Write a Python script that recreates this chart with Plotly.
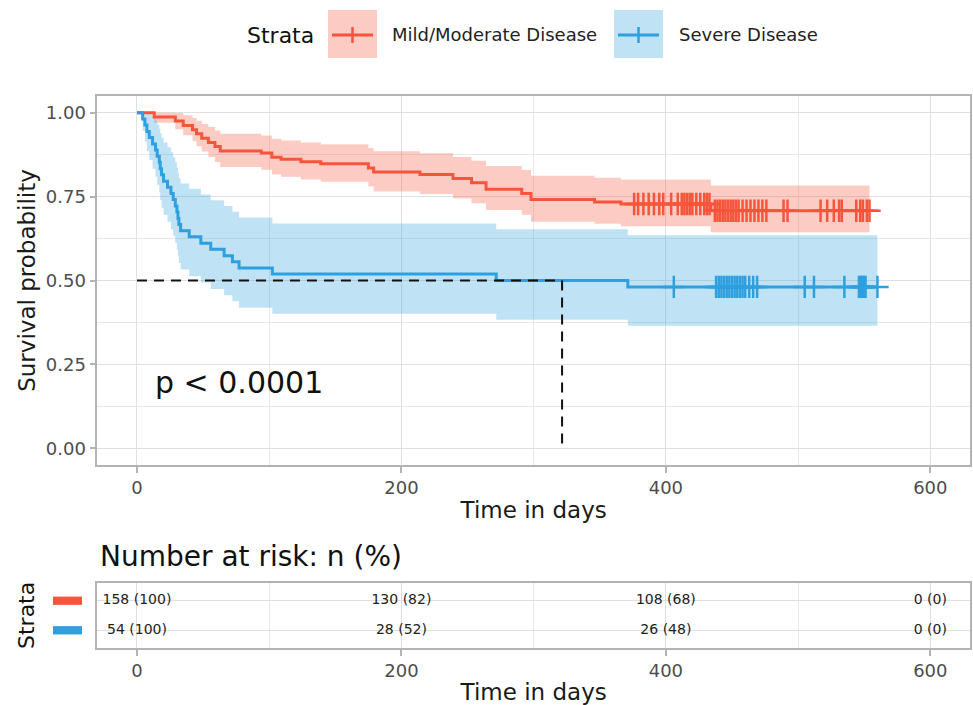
import plotly.graph_objects as go

# ---------------- data ----------------
GROUPS = ["Mild/Moderate Disease", "Severe Disease"]
COLORS = ["#F5553B", "#2E9FDF"]
FILLS = ["rgba(245,85,59,0.3)", "rgba(46,159,223,0.3)"]

# Mild/Moderate disease: step times (days), survival, and 95% CI
RED_TIME = [0, 13, 29, 35, 42, 45, 49, 54, 59, 63, 94, 102, 109, 124, 139,
            175, 179, 214, 239, 253, 264, 291, 298, 346, 366, 434, 554]
RED_SURV = [1.000, 0.987, 0.975, 0.962, 0.949, 0.937, 0.924, 0.911, 0.899, 0.886,
            0.880, 0.867, 0.861, 0.854, 0.848, 0.835, 0.823, 0.816, 0.804, 0.791,
            0.772, 0.759, 0.741, 0.734, 0.728, 0.708, 0.708]
RED_UPPER = [1.000, 1.000, 0.999, 0.992, 0.984, 0.976, 0.966, 0.957, 0.947, 0.937,
             0.932, 0.922, 0.917, 0.911, 0.906, 0.895, 0.885, 0.879, 0.868, 0.857,
             0.841, 0.829, 0.812, 0.806, 0.801, 0.783, 0.783]
RED_LOWER = [1.000, 0.970, 0.951, 0.933, 0.916, 0.900, 0.884, 0.868, 0.853, 0.838,
             0.830, 0.816, 0.809, 0.801, 0.794, 0.780, 0.765, 0.758, 0.744, 0.730,
             0.710, 0.696, 0.675, 0.669, 0.662, 0.644, 0.644]
RED_CENSOR = [376, 379, 383, 387, 391, 395, 398, 404, 409, 412, 414, 416, 418,
              420, 423, 426, 429, 431, 433,
              437, 439, 441, 443, 445, 447, 449, 451, 453, 455, 458, 461, 464,
              467, 470, 473, 476, 489, 492, 517, 522, 527, 531, 533, 544, 547,
              549, 552, 554]

# Severe disease
BLUE_TIME = [0, 4.3, 6.0, 7.5, 9.3, 11.8, 14.0, 15.3, 16.9, 17.6, 18.6, 20.1,
             23.1, 25.7, 27.4, 29.0, 30.2, 31.0, 31.7, 33.0, 39.5, 48.3, 55.8,
             65.9, 72.2, 77.2, 102.4, 271.7, 371.2, 560]
BLUE_SURV = [1.000, 0.981, 0.963, 0.944, 0.926, 0.907, 0.889, 0.870, 0.852, 0.833,
             0.815, 0.796, 0.778, 0.759, 0.741, 0.722, 0.704, 0.685, 0.667, 0.648,
             0.630, 0.611, 0.593, 0.574, 0.556, 0.537, 0.519, 0.500, 0.481, 0.481]
BLUE_UPPER = [1.000, 1.000, 1.000, 1.000, 0.999, 0.988, 0.977, 0.965, 0.952, 0.939,
              0.925, 0.911, 0.897, 0.882, 0.867, 0.852, 0.837, 0.821, 0.805, 0.789,
              0.773, 0.756, 0.739, 0.722, 0.705, 0.688, 0.670, 0.653, 0.635, 0.635]
BLUE_LOWER = [1.000, 0.946, 0.914, 0.885, 0.859, 0.833, 0.809, 0.785, 0.762, 0.740,
              0.717, 0.696, 0.675, 0.653, 0.633, 0.612, 0.592, 0.572, 0.552, 0.533,
              0.513, 0.494, 0.475, 0.456, 0.438, 0.419, 0.401, 0.383, 0.365, 0.365]
BLUE_CENSOR = [406, 438, 440, 442, 444, 446, 448, 450, 452, 454, 456, 458, 460,
               463, 466, 469, 505, 512, 535, 546, 547, 548, 549, 550, 551, 560]

MEDIAN_DAYS = 321.5          # median survival of the severe group
MEDIAN_LEVEL = 0.5
P_TEXT = "p < 0.0001"

RISK_TIMES = [0, 200, 400, 600]
RED_N = [158, 130, 108, 0]
RED_PCT = [100, 82, 68, 0]
BLUE_N = [54, 28, 26, 0]
BLUE_PCT = [100, 52, 48, 0]

X_TICKS = [0, 200, 400, 600]
Y_TICKS = [0, 0.25, 0.5, 0.75, 1.0]
Y_TICKTEXT = ["0.00", "0.25", "0.50", "0.75", "1.00"]

# ---------------- layout helpers ----------------
W, H = 973, 705
FONT = "DejaVu Sans"
def fx(p):  # pixel x -> paper
    return p / W
def fy(p):  # pixel y -> paper
    return 1 - p / H

GRID = "#E0E0E0"
BORDER = "#B3B3B3"
TICKTXT = "#4D4D4D"

fig = go.Figure()

series = [
    (RED_TIME, RED_SURV, RED_UPPER, RED_LOWER, RED_CENSOR),
    (BLUE_TIME, BLUE_SURV, BLUE_UPPER, BLUE_LOWER, BLUE_CENSOR),
]

# confidence bands
for i, (t, s, up, lo, cen) in enumerate(series):
    fig.add_trace(go.Scatter(x=t, y=up, mode="lines", line=dict(width=0, shape="hv"),
                             hoverinfo="skip", showlegend=False, xaxis="x", yaxis="y"))
    fig.add_trace(go.Scatter(x=t, y=lo, mode="lines", line=dict(width=0, shape="hv"),
                             fill="tonexty", fillcolor=FILLS[i], hoverinfo="skip",
                             showlegend=False, xaxis="x", yaxis="y"))

# survival curves
for i, (t, s, up, lo, cen) in enumerate(series):
    fig.add_trace(go.Scatter(x=t, y=s, mode="lines", name=GROUPS[i],
                             line=dict(color=COLORS[i], width=3, shape="hv"),
                             showlegend=False, xaxis="x", yaxis="y"))

# censor marks, placed on the curve level at each censor time
def level_at(t_list, s_list, tc):
    val = s_list[0]
    for tt, ss in zip(t_list, s_list):
        if tt <= tc:
            val = ss
    return val

for i, (t, s, up, lo, cen) in enumerate(series):
    fig.add_trace(go.Scatter(
        x=cen, y=[level_at(t, s, c) for c in cen], mode="markers",
        marker=dict(symbol="cross-thin", size=16,
                    line=dict(color=COLORS[i], width=2.5)),
        showlegend=False, hoverinfo="skip", xaxis="x", yaxis="y"))

# median dashed lines
fig.add_trace(go.Scatter(x=[0, MEDIAN_DAYS], y=[MEDIAN_LEVEL, MEDIAN_LEVEL], mode="lines",
                         line=dict(color="#111111", width=2, dash="10px,7px"),
                         showlegend=False, hoverinfo="skip", xaxis="x", yaxis="y"))
fig.add_trace(go.Scatter(x=[MEDIAN_DAYS, MEDIAN_DAYS], y=[MEDIAN_LEVEL, 0], mode="lines",
                         line=dict(color="#111111", width=2, dash="10px,7px"),
                         showlegend=False, hoverinfo="skip", xaxis="x", yaxis="y"))

# risk table text
fig.add_trace(go.Scatter(x=RISK_TIMES, y=[2] * len(RISK_TIMES), mode="text",
                         text=[f"{n} ({p})" for n, p in zip(RED_N, RED_PCT)],
                         textfont=dict(family=FONT, size=14, color="#222222"),
                         showlegend=False, hoverinfo="skip", xaxis="x2", yaxis="y2"))
fig.add_trace(go.Scatter(x=RISK_TIMES, y=[1] * len(RISK_TIMES), mode="text",
                         text=[f"{n} ({p})" for n, p in zip(BLUE_N, BLUE_PCT)],
                         textfont=dict(family=FONT, size=14, color="#222222"),
                         showlegend=False, hoverinfo="skip", xaxis="x2", yaxis="y2"))

xdom = [fx(97.3), fx(970)]
common_x = dict(range=[-30, 630], tickvals=X_TICKS, showgrid=True, gridcolor=GRID,
                gridwidth=1, minor=dict(dtick=100, tick0=0, showgrid=True, gridcolor="#E8E8E8",
                                        gridwidth=1, ticks=""),
                zeroline=False, showline=True, mirror=True, linecolor=BORDER, linewidth=1.5,
                ticks="outside", ticklen=6, tickwidth=1.5, tickcolor=BORDER, automargin=False,
                tickfont=dict(family=FONT, size=18, color=TICKTXT))

fig.update_layout(
    width=W, height=H,
    margin=dict(l=0, r=0, t=0, b=0, autoexpand=False),
    paper_bgcolor="white", plot_bgcolor="white",
    font=dict(family=FONT, color="#1a1a1a"),
    showlegend=False,
    xaxis=dict(domain=xdom, anchor="y",
               title=dict(text="Time in days", font=dict(family=FONT, size=23, color="#1a1a1a"),
                          standoff=4),
               **common_x),
    yaxis=dict(domain=[fy(465.1), fy(95.9)], anchor="x", range=[-0.05, 1.05],
               tickvals=Y_TICKS, ticktext=Y_TICKTEXT, showgrid=True, gridcolor=GRID,
               minor=dict(dtick=0.125, tick0=0, showgrid=True, gridcolor="#E8E8E8", ticks=""),
               zeroline=False, showline=True, mirror=True, linecolor=BORDER, linewidth=1.5,
               ticks="outside", ticklen=6, tickwidth=1.5, tickcolor=BORDER, automargin=False,
               tickfont=dict(family=FONT, size=18, color=TICKTXT),
               title=dict(text="Survival probability",
                          font=dict(family=FONT, size=23, color="#1a1a1a"), standoff=4)),
    xaxis2=dict(domain=xdom, anchor="y2",
                title=dict(text="Time in days", font=dict(family=FONT, size=23, color="#1a1a1a"),
                           standoff=4),
                **common_x),
    yaxis2=dict(domain=[fy(648), fy(583)], anchor="x2", range=[0.4, 2.6], automargin=False,
                tickvals=[1, 2], showticklabels=False, ticks="", showgrid=True, gridcolor=GRID,
                zeroline=False, showline=True, mirror=True, linecolor=BORDER, linewidth=1.5),
)

annotations = [
    dict(text=P_TEXT, x=12.1, y=0.195, xref="x", yref="y", xanchor="left", yanchor="middle",
         showarrow=False, font=dict(family=FONT, size=30, color="#111111")),
    dict(text="Number at risk: n (%)", x=fx(98), y=fy(556), xref="paper", yref="paper",
         xanchor="left", yanchor="middle", showarrow=False,
         font=dict(family=FONT, size=28, color="#111111")),
    dict(text="Strata", x=fx(26), y=fy(616), xref="paper", yref="paper", textangle=-90,
         xanchor="center", yanchor="middle", showarrow=False,
         font=dict(family=FONT, size=22, color="#111111")),
    dict(text="Strata", x=fx(245), y=fy(36), xref="paper", yref="paper",
         xanchor="left", yanchor="middle", showarrow=False,
         font=dict(family=FONT, size=22, color="#111111")),
]

shapes = []
# legend
leg_boxes = [(328, 377, 390), (614, 663, 677)]
for i, (x0, x1, tx) in enumerate(leg_boxes):
    shapes.append(dict(type="rect", xref="paper", yref="paper", x0=fx(x0), x1=fx(x1),
                       y0=fy(58), y1=fy(10), fillcolor=FILLS[i], line=dict(width=0)))
    shapes.append(dict(type="line", xref="paper", yref="paper", x0=fx(x0 + 4), x1=fx(x1 - 4),
                       y0=fy(35), y1=fy(35), line=dict(color=COLORS[i], width=3)))
    xc = (x0 + x1) / 2
    shapes.append(dict(type="line", xref="paper", yref="paper", x0=fx(xc), x1=fx(xc),
                       y0=fy(27), y1=fy(43), line=dict(color=COLORS[i], width=2.5)))
    annotations.append(dict(text=GROUPS[i], x=fx(tx), y=fy(35), xref="paper", yref="paper",
                            xanchor="left", yanchor="middle", showarrow=False,
                            font=dict(family=FONT, size=18, color="#222222")))

# risk-table colour keys
for i, row in enumerate([2, 1]):
    shapes.append(dict(type="rect", xref="paper", yref="y2", x0=fx(53), x1=fx(82),
                       y0=row - 0.14, y1=row + 0.14, fillcolor=COLORS[i], line=dict(width=0)))

fig.update_layout(annotations=annotations, shapes=shapes)
fig.write_html("out.html", config={"displayModeBar": False},
               post_script="document.body.style.margin='0px';document.body.style.overflow='hidden';")
